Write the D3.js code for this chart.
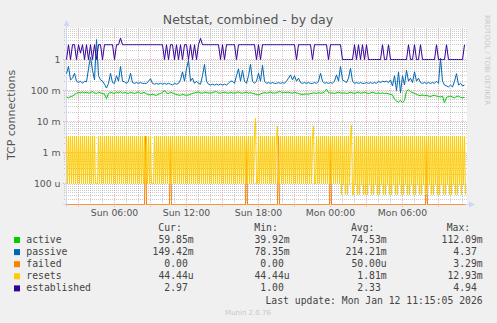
<!DOCTYPE html>
<html>
<head>
<meta charset="utf-8">
<script src="https://cdn.jsdelivr.net/npm/d3@7"></script>
<style>
html, body { margin: 0; padding: 0; background: #f0f0f0; }
svg { display: block; }
</style>
</head>
<body>
<div id="chart"></div>
<script>
// time window of the "by day" graph (33h20m, 400 px)
const startTime = Date.UTC(2026, 0, 11, 2, 0);
const endTime = Date.UTC(2026, 0, 12, 11, 20);

const xTickTimes = [
    Date.UTC(2026, 0, 11, 6), Date.UTC(2026, 0, 11, 12), Date.UTC(2026, 0, 11, 18),
    Date.UTC(2026, 0, 12, 0), Date.UTC(2026, 0, 12, 6)
];
const xTickLabels = ["Sun 06:00", "Sun 12:00", "Sun 18:00", "Mon 00:00", "Mon 06:00"];
const yTickValues = [1, 0.1, 0.01, 0.001, 0.0001];
const yTickLabels = ["1", "100 m", "10 m", "1 m", "100 u"];

const seriesNames = ["active", "passive", "failed", "resets", "established"];
const seriesColors = ["#00cc00", "#0066b3", "#ff8000", "#ffcc00", "#330099"];

// 10 minute samples (200), in milli
const activeMilli = [
    62, 58, 64, 66, 74, 82, 86, 84, 90, 84,
    88, 82, 86, 92, 84, 80, 88, 84, 80, 76,
    55, 80, 88, 84, 80, 90, 84, 92, 82, 86,
    84, 80, 88, 84, 80, 86, 90, 80, 84, 86,
    78, 74, 72, 76, 72, 70, 76, 80, 86, 100,
    84, 80, 88, 84, 78, 74, 72, 70, 76, 72,
    70, 72, 76, 80, 84, 86, 90, 84, 82, 88,
    86, 84, 82, 86, 90, 92, 84, 82, 86, 88,
    84, 82, 88, 84, 82, 86, 90, 84, 82, 86,
    88, 82, 86, 80, 78, 74, 72, 78, 82, 86,
    82, 86, 88, 84, 82, 86, 90, 92, 84, 88,
    86, 88, 84, 82, 88, 84, 80, 76, 74, 76,
    78, 76, 80, 82, 84, 80, 86, 82, 84, 90,
    110, 86, 82, 84, 80, 84, 88, 84, 82, 84,
    80, 84, 88, 84, 80, 86, 88, 82, 84, 88,
    84, 80, 84, 88, 84, 80, 84, 80, 84, 80,
    82, 78, 75, 72, 52, 46, 42, 48, 40, 48,
    95, 105, 92, 86, 80, 76, 70, 68, 72, 68,
    70, 66, 64, 68, 70, 66, 64, 62, 66, 40,
    60, 64, 66, 62, 58, 64, 66, 60, 58, 60
];

const passiveMilli = [
    350, 600, 220, 250, 360, 200, 180, 200, 170, 200,
    190, 500, 1200, 450, 220, 4400, 300, 220, 200, 160,
    120, 170, 360, 180, 170, 300, 200, 600, 200, 190,
    170, 200, 360, 180, 170, 180, 170, 180, 170, 170,
    170, 200, 240, 170, 160, 170, 160, 170, 160, 170,
    160, 170, 160, 150, 170, 160, 170, 220, 400, 200,
    500, 950, 200, 250, 170, 200, 170, 160, 300, 700,
    200, 160, 150, 160, 150, 160, 150, 160, 150, 160,
    150, 170, 200, 200, 170, 300, 500, 200, 450, 200,
    170, 300, 700, 200, 170, 200, 360, 200, 650, 200,
    170, 180, 170, 180, 170, 170, 180, 170, 180, 170,
    200, 250, 320, 220, 300, 200, 250, 180, 170, 180,
    170, 180, 170, 170, 180, 170, 200, 360, 200, 170,
    180, 170, 180, 170, 200, 320, 200, 600, 220, 200,
    180, 250, 520, 200, 170, 180, 170, 180, 170, 170,
    180, 170, 180, 170, 180, 170, 200, 180, 200, 190,
    200, 180, 220, 140, 300, 100, 400, 85, 300, 150,
    450, 200, 250, 180, 400, 200, 250, 180, 170, 180,
    170, 180, 170, 180, 170, 200, 170, 1100, 200, 150,
    140, 130, 150, 130, 200, 350, 150, 170, 140, 149
];

const established = [
    1, 3, 1, 3, 3, 1, 3, 1.6, 3, 1,
    3, 1, 3, 1, 3, 1, 3, 3, 1, 3,
    3, 3, 3, 3, 1, 3, 3, 4.9, 3, 3,
    3, 3, 3, 3, 3, 3, 3, 3, 3, 3,
    3, 3, 3, 3, 3, 3, 3, 3, 3, 1,
    3, 1, 3, 3, 1, 3, 1, 3, 1, 3,
    3, 1, 3, 1, 3, 1, 3, 4.8, 3, 3,
    3, 3, 3, 3, 3, 3, 3, 1, 3, 1,
    3, 3, 3, 3, 3, 1, 3, 3, 3, 3,
    3, 3, 3, 3, 3, 1, 3, 1, 3, 3,
    3, 3, 3, 3, 3, 3, 3, 3, 3, 3,
    3, 3, 3, 3, 3, 1, 3, 3, 3, 3,
    3, 3, 3, 1, 3, 3, 3, 3, 3, 3,
    3, 1, 3, 3, 3, 3, 3, 3, 1, 1,
    1, 1, 1, 1, 3, 1, 3, 1, 3, 1,
    3, 1, 1, 1, 1, 1, 1, 1, 3, 1,
    1, 3, 1, 1, 1, 1, 1, 1, 1, 1,
    1, 3, 1, 1, 3, 1, 1, 3, 1, 1,
    1, 1, 1, 1, 1, 3, 1, 1, 1, 1,
    3, 1, 1, 1, 1, 1, 1, 1, 1, 2.97
];

// 5 minute samples (400), in milli
const resetsMilli = [
    3.4,.1,3.4,.1,3.4,.1,3.4,.1,3.4,.1,3.4,.1,3.4,.1,3.4,.1,3.4,.1,3.4,.1,
    3.4,.1,3.4,.1,3.4,.1,3.4,.1,3.4,.1,.1,.1,3.4,.1,3.4,.1,3.4,.1,3.4,.1,
    3.4,.1,3.4,.1,3.4,.1,3.4,.1,3.4,.1,3.4,.1,3.4,.1,3.4,.1,3.4,.1,3.4,.1,
    3.4,.1,3.4,.1,3.4,.1,3.4,.1,3.4,.1,3.4,.1,3.4,.1,3.4,.1,3.4,.1,3.4,.1,
    3.4,.1,3.4,.1,3.4,.1,.1,.1,3.4,.1,3.4,.1,3.4,.1,3.4,.1,3.4,.1,3.4,.1,
    3.4,.1,3.4,.1,3.4,.1,3.4,.1,3.4,.1,3.4,.1,3.4,.1,3.4,.1,3.4,.1,3.4,.1,
    3.4,.1,3.4,.1,3.4,.1,3.4,.1,3.4,.1,3.4,.1,3.4,.1,3.4,.1,3.4,.1,3.4,.1,
    3.4,.1,3.4,.1,3.4,.1,3.4,.1,3.4,.1,3.4,.1,3.4,.1,3.4,.1,3.4,.1,3.4,.1,
    3.4,.1,3.4,.1,3.4,.1,3.4,.1,3.4,.1,3.4,.1,3.4,.1,3.4,.1,3.4,.1,3.4,.1,
    3.4,.1,3.4,.1,3.4,.1,3.4,.1,3.4,12.93,.1,.1,3.4,.1,3.4,.1,3.4,.1,3.4,.1,
    3.4,.1,3.4,.1,3.4,.1,3.4,.1,3.4,.1,3.4,7,.1,.1,3.4,.1,3.4,.1,3.4,.1,
    3.4,.1,3.4,.1,3.4,.1,3.4,.1,3.4,.1,3.4,.1,3.4,.1,3.4,.1,3.4,.1,3.4,.1,
    3.4,.1,3.4,.1,3.4,.1,3.4,7,.1,.1,3.4,.1,3.4,.1,3.4,.1,3.4,.1,3.4,.1,
    3.4,.1,3.4,.1,3.4,.1,3.4,.1,3.4,.1,3.4,.1,3.4,.1,3.4,.044,3.4,.089,3.4,.044,
    3.4,.044,3.4,.089,3.4,7.5,.044,.044,3.4,.089,3.4,.044,3.4,.044,3.4,.089,3.4,.044,3.4,.044,
    3.4,.044,3.4,.089,3.4,.044,3.4,.044,3.4,.089,3.4,.044,3.4,.044,3.4,.089,3.4,.044,3.4,.044,
    3.4,.089,3.4,.044,3.4,.044,3.4,.089,3.4,.044,3.4,.044,3.4,.089,3.4,.044,3.4,.044,3.4,.089,
    3.4,.044,3.4,.044,3.4,.089,3.4,.044,3.4,.044,3.4,.089,3.4,.044,3.4,.044,3.4,.089,3.4,.044,
    3.4,.044,3.4,.089,3.4,.044,3.4,.044,3.4,.089,3.4,.044,3.4,.044,3.4,.089,3.4,.044,3.4,.044,
    3.4,.089,3.4,.044,3.4,.044,3.4,.089,3.4,.044,3.4,.044,3.4,.089,3.4,.044,3.4,.089,3.4,.044
];

// failed is 0 except a few single 5 min samples
const failedSpikeTimes = [
    Date.UTC(2026, 0, 11, 8, 35), Date.UTC(2026, 0, 11, 10, 40), Date.UTC(2026, 0, 11, 17, 0),
    Date.UTC(2026, 0, 11, 19, 40), Date.UTC(2026, 0, 12, 0, 0), Date.UTC(2026, 0, 12, 8, 0)
];
const failedSpikeMilli = [3.29, 3.29, 3.29, 3.29, 3.29, 3.29];

const legendCur = ["59.85m", "149.42m", "0.00", "44.44u", "2.97"];
const legendMin = ["39.92m", "78.35m", "0.00", "44.44u", "1.00"];
const legendAvg = ["74.53m", "214.21m", "50.00u", "1.81m", "2.33"];
const legendMax = ["112.09m", "4.37", "3.29m", "12.93m", "4.94"];
const legendHeaders = ["Cur:", "Min:", "Avg:", "Max:"];

const W = 497, H = 323;
const plot = { left: 66, right: 467, top: 28, bottom: 204 };

const x = d3.scaleUtc().domain([startTime, endTime]).range([66.5, 466.5]);
const y = d3.scaleLog().domain([Math.pow(10, -4.677), 10]).range([204.5, 28.5]);
const yv = v => v > 0 ? Math.max(28, Math.min(204.5, y(v))) : 204.5;

const svg = d3.select("#chart").append("svg")
    .attr("width", W)
    .attr("height", H)
    .style("font-family", "'DejaVu Sans', sans-serif");

svg.append("rect").attr("width", W).attr("height", H).attr("fill", "#f0f0f0");
svg.append("rect")
    .attr("x", plot.left).attr("y", plot.top)
    .attr("width", plot.right - plot.left).attr("height", plot.bottom - plot.top + 1)
    .attr("fill", "#ffffff");

// grid
const gridColor = "rgba(143,143,143,0.45)";
const mgridColor = "rgba(222,79,79,0.42)";
const crisp = v => Math.round(v - 0.5) + 0.5;

const hours = d3.utcHour.range(new Date(startTime + 1), new Date(endTime));
svg.append("g").selectAll("line")
    .data(hours)
    .join("line")
    .attr("x1", d => x(d)).attr("x2", d => x(d))
    .attr("y1", plot.top).attr("y2", d => d.getUTCHours() % 3 === 0 ? 207 : 206)
    .attr("stroke", d => d.getUTCHours() % 3 === 0 ? mgridColor : gridColor)
    .attr("stroke-dasharray", "1,1");

const minorY = [];
for (let e = -5; e <= 0; e++) {
    for (let k = 2; k <= 9; k++) {
        const v = k * Math.pow(10, e);
        if (v > y.domain()[0] && v < 10) minorY.push(v);
    }
}
svg.append("g").selectAll("line")
    .data(minorY)
    .join("line")
    .attr("x1", 64).attr("x2", plot.right)
    .attr("y1", d => crisp(y(d))).attr("y2", d => crisp(y(d)))
    .attr("stroke", gridColor)
    .attr("stroke-dasharray", "1,1");

svg.append("g").selectAll("line")
    .data(yTickValues)
    .join("line")
    .attr("x1", 63).attr("x2", plot.right)
    .attr("y1", d => crisp(y(d))).attr("y2", d => crisp(y(d)))
    .attr("stroke", mgridColor)
    .attr("stroke-dasharray", "1,1");

// axes
const axisColor = "#cfd6f8";
svg.append("line").attr("x1", 66.5).attr("x2", 66.5).attr("y1", 207).attr("y2", 25)
    .attr("stroke", axisColor);
svg.append("line").attr("x1", 63).attr("x2", 470).attr("y1", 204.5).attr("y2", 204.5)
    .attr("stroke", axisColor);
svg.append("path").attr("d", "M63.5,26 L66.5,20 L69.5,26 Z").attr("fill", axisColor);
svg.append("path").attr("d", "M469,201.5 L475,204.5 L469,207.5 Z").attr("fill", axisColor);

// tick labels
svg.append("g").selectAll("text")
    .data(yTickValues)
    .join("text")
    .attr("x", 60.5)
    .attr("y", d => y(d) + 3.4)
    .attr("text-anchor", "end")
    .attr("font-size", 9.3)
    .attr("fill", "#555")
    .text((d, i) => yTickLabels[i]);

svg.append("g").selectAll("text")
    .data(xTickTimes)
    .join("text")
    .attr("x", d => x(d))
    .attr("y", 216.2)
    .attr("text-anchor", "middle")
    .attr("font-size", 9.3)
    .attr("fill", "#555")
    .text((d, i) => xTickLabels[i]);

svg.append("text")
    .attr("x", 248).attr("y", 23.6)
    .attr("text-anchor", "middle")
    .attr("font-size", 12.5)
    .attr("fill", "#555")
    .text("Netstat, combined - by day");

svg.append("text")
    .attr("transform", "translate(15,115) rotate(-90)")
    .attr("text-anchor", "middle")
    .attr("font-size", 11)
    .attr("fill", "#555")
    .text("TCP connections");

svg.append("text")
    .attr("transform", "translate(484.5,15) rotate(90)")
    .attr("font-size", 7)
    .attr("fill", "#c8c8c8")
    .text("RRDTOOL / TOBI OETIKER");

// series
const t10 = d3.range(activeMilli.length).map(i => startTime + i * 600000);
const t5 = d3.range(resetsMilli.length).map(i => startTime + i * 300000);

const failedMilli = t5.map(t => {
    const k = failedSpikeTimes.indexOf(t);
    return k >= 0 ? failedSpikeMilli[k] : 0;
});

const series = [
    t10.map((t, i) => ({ t, v: activeMilli[i] / 1000 })),
    t10.map((t, i) => ({ t, v: passiveMilli[i] / 1000 })),
    t5.map((t, i) => ({ t, v: failedMilli[i] / 1000 })),
    t5.map((t, i) => ({ t, v: resetsMilli[i] / 1000 })),
    t10.map((t, i) => ({ t, v: established[i] }))
];

const line = d3.line()
    .x(d => x(d.t))
    .y(d => yv(d.v));

const seriesG = svg.append("g");
series.forEach((data, i) => {
    if (seriesNames[i] === "resets") {
        // the zig-zag is drawn segment by segment so the antialiasing stays even
        seriesG.append("g").selectAll("line")
            .data(d3.pairs(data))
            .join("line")
            .attr("x1", d => x(d[0].t)).attr("y1", d => yv(d[0].v))
            .attr("x2", d => x(d[1].t)).attr("y2", d => yv(d[1].v))
            .attr("stroke", seriesColors[i])
            .attr("stroke-width", 1);
    } else {
        seriesG.append("path")
            .datum(data)
            .attr("d", line)
            .attr("fill", "none")
            .attr("stroke", seriesColors[i])
            .attr("stroke-width", 1);
    }
});

// legend
const mono = "'DejaVu Sans Mono', monospace";
const charW = 5.87;
const rowY = [243, 255.1, 267.2, 279.3, 291.4];
const colRight = [193.7, 289.7, 386.7, 482.7];
const headerX = [158.3, 254.3, 351, 446.7];

const legend = svg.append("g")
    .style("font-family", mono)
    .attr("font-size", 9.75)
    .attr("fill", "#444");

legend.selectAll(".hdr")
    .data(legendHeaders)
    .join("text")
    .attr("class", "hdr")
    .attr("x", (d, i) => headerX[i])
    .attr("y", 230.9)
    .text(d => d);

legend.selectAll("rect")
    .data(seriesNames)
    .join("rect")
    .attr("x", 14).attr("y", (d, i) => rowY[i] - 6)
    .attr("width", 6).attr("height", 6)
    .attr("fill", (d, i) => seriesColors[i]);

legend.selectAll(".name")
    .data(seriesNames)
    .join("text")
    .attr("class", "name")
    .attr("x", 26.3)
    .attr("y", (d, i) => rowY[i])
    .text(d => d);

[legendCur, legendMin, legendAvg, legendMax].forEach((col, c) => {
    legend.selectAll(".c" + c)
        .data(col)
        .join("text")
        .attr("class", "c" + c)
        .attr("x", d => /[a-z]$/.test(d) ? colRight[c] : colRight[c] - charW)
        .attr("y", (d, i) => rowY[i])
        .attr("text-anchor", "end")
        .text(d => d);
});

legend.append("text")
    .attr("x", 482.7).attr("y", 303.5)
    .attr("text-anchor", "end")
    .text("Last update: Mon Jan 12 11:15:05 2026");

svg.append("text")
    .attr("x", 248).attr("y", 314.6)
    .attr("text-anchor", "middle")
    .attr("font-size", 7)
    .attr("fill", "#c8c8c8")
    .text("Munin 2.0.76");
</script>
</body>
</html>
